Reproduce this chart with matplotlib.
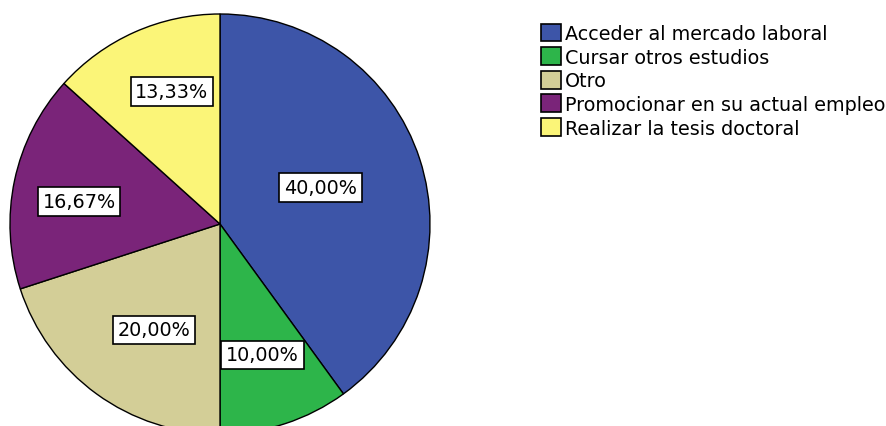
import numpy as np
import matplotlib
matplotlib.use("Agg")
import matplotlib.pyplot as plt  # noqa: E402
from matplotlib.patches import Patch  # noqa: E402

categories = ["Acceder al mercado laboral", "Cursar otros estudios", "Otro",
              "Promocionar en su actual empleo", "Realizar la tesis doctoral"]
percents = [40.00, 10.00, 20.00, 16.67, 13.33]
colors = ["#3d55a8", "#2db54a", "#d3ce97", "#7a2479", "#fbf578"]
label_dist = [0.51, 0.655, 0.595, 0.68, 0.67]
label_turn = [2, 0, 4, 3, -4]

plt.rcParams["font.family"] = ["DejaVu Sans"]

W, H = 886, 427
fig = plt.figure(figsize=(W / 100, H / 100), dpi=100)
ax = fig.add_axes([0, 0, 1, 1])

cx, cy, r = 220, H - 225, 210
wedges, _ = ax.pie(percents, colors=colors, startangle=90, counterclock=False,
                   radius=r, center=(cx, cy), frame=True,
                   wedgeprops=dict(edgecolor="black", linewidth=1))
ax.set_xlim(0, W)
ax.set_ylim(0, H)
ax.set_aspect("equal")
ax.axis("off")

for w, p, d, t in zip(wedges, percents, label_dist, label_turn):
    ang = np.deg2rad((w.theta1 + w.theta2) / 2 + t)
    ax.text(cx + d * r * np.cos(ang), cy + d * r * np.sin(ang),
            f"{p:.2f}%".replace(".", ","), ha="center", va="center", fontsize=13.8,
            bbox=dict(boxstyle="square,pad=0.25", fc="white", ec="black", lw=1.2))

handles = [Patch(facecolor=c, edgecolor="black", linewidth=1.2) for c in colors]
fig.legend(handles, categories, loc="upper left", bbox_to_anchor=(541 / W, 1 - 24.5 / H),
           frameon=False, fontsize=13.8, handlelength=1.05, handleheight=1.05,
           handletextpad=0.2, labelspacing=0.22, borderaxespad=0, borderpad=0)

fig.savefig("out.png", dpi=100)
plt.close(fig)
